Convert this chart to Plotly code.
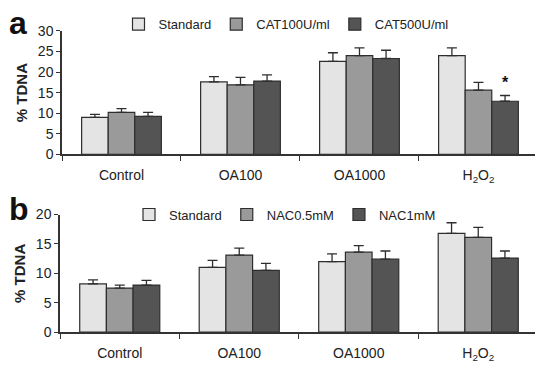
import plotly.graph_objects as go

categories = ["Control", "OA100", "OA1000", "H<sub>2</sub>O<sub>2</sub>"]

# Panel a
a_names = ["Standard", "CAT100U/ml", "CAT500U/ml"]
a_values = [
    [9.0, 17.6, 22.6, 24.0],
    [10.2, 16.9, 24.0, 15.6],
    [9.2, 17.8, 23.3, 12.9],
]
a_errors = [
    [0.7, 1.3, 2.1, 1.9],
    [0.9, 1.8, 1.9, 1.9],
    [1.0, 1.5, 2.0, 1.4],
]

# Panel b
b_names = ["Standard", "NAC0.5mM", "NAC1mM"]
b_values = [
    [8.2, 11.0, 12.0, 16.8],
    [7.5, 13.1, 13.6, 16.1],
    [8.0, 10.5, 12.4, 12.6],
]
b_errors = [
    [0.7, 1.2, 1.3, 1.8],
    [0.5, 1.2, 1.1, 1.7],
    [0.8, 1.2, 1.4, 1.2],
]

colors = ["#e4e4e4", "#9a9a9a", "#545454"]
edge = "#2e2e2e"
font_family = "Liberation Sans, Arial, sans-serif"

fig = go.Figure()
for i in range(3):
    fig.add_trace(go.Bar(
        x=categories, y=a_values[i], name=a_names[i],
        marker=dict(color=colors[i], line=dict(color=edge, width=1.2)),
        error_y=dict(type="data", array=a_errors[i], arrayminus=[0] * 4,
                     symmetric=False, color=edge, thickness=1.3, width=5),
        xaxis="x", yaxis="y", legend="legend",
    ))
for i in range(3):
    fig.add_trace(go.Bar(
        x=categories, y=b_values[i], name=b_names[i],
        marker=dict(color=colors[i], line=dict(color=edge, width=1.2)),
        error_y=dict(type="data", array=b_errors[i], arrayminus=[0] * 4,
                     symmetric=False, color=edge, thickness=1.3, width=5),
        xaxis="x2", yaxis="y2", legend="legend2",
    ))

H, W = 365, 535
L = 60

xcommon = dict(
    type="category", range=[-0.5, 3.475], showline=True, linecolor="#333",
    linewidth=1.5, ticks="outside", tickson="boundaries", ticklen=5,
    tickcolor="#333", tickwidth=1.3, showgrid=False, zeroline=False,
    tickfont=dict(family=font_family, size=14, color="#222"),
    ticklabelstandoff=7,
)
ycommon = dict(
    showline=True, linecolor="#333", linewidth=1.5, ticks="outside",
    ticklen=4, tickcolor="#333", tickwidth=1.3, showgrid=False,
    zeroline=False, tickfont=dict(family=font_family, size=14, color="#222"),
    title=dict(text="<b>% TDNA</b>", font=dict(family=font_family, size=15,
               color="#222"), standoff=7),
)

fig.update_layout(
    width=W, height=H,
    margin=dict(l=L, r=0, t=0, b=0),
    paper_bgcolor="white", plot_bgcolor="white",
    barmode="group", bargap=0.33, bargroupgap=0,
    showlegend=True,
    xaxis=dict(**xcommon, domain=[2 / (W - L), 1], anchor="y"),
    yaxis=dict(**ycommon, range=[0, 30], dtick=5,
               domain=[1 - 153 / H, 1 - 24 / H], anchor="x"),
    xaxis2=dict(**xcommon, domain=[0, 1], anchor="y2"),
    yaxis2=dict(**ycommon, range=[0, 20], dtick=5,
                domain=[1 - 339 / H, 1 - 216 / H], anchor="x2"),
    legend=dict(orientation="h", x=(286 - L) / (W - L), xanchor="center",
                y=1 - 17 / H, yanchor="middle", yref="paper",
                font=dict(family=font_family, size=13, color="#222"),
                bgcolor="rgba(0,0,0,0)", itemwidth=30, tracegroupgap=0),
    legend2=dict(orientation="h", x=(285 - L) / (W - L), xanchor="center",
                 y=1 - 216 / H, yanchor="middle", yref="paper",
                 font=dict(family=font_family, size=13, color="#222"),
                 bgcolor="rgba(0,0,0,0)", itemwidth=30, tracegroupgap=0),
    annotations=[
        dict(text="<b>a</b>", x=(7 - L) / (W - L), y=1 - 16 / H,
             xref="paper", yref="paper", xanchor="left", yanchor="middle",
             showarrow=False, font=dict(family=font_family, size=32, color="#111")),
        dict(text="<b>b</b>", x=(7 - L) / (W - L), y=1 - 210 / H,
             xref="paper", yref="paper", xanchor="left", yanchor="middle",
             showarrow=False, font=dict(family=font_family, size=32, color="#111")),
        dict(text="<b>*</b>", x=categories[3], y=a_values[2][3] + a_errors[2][3],
             xref="x", yref="y", xshift=27, yshift=2, yanchor="bottom",
             showarrow=False, font=dict(family=font_family, size=16, color="#111")),
    ],
)

fig.write_html("out.html")
